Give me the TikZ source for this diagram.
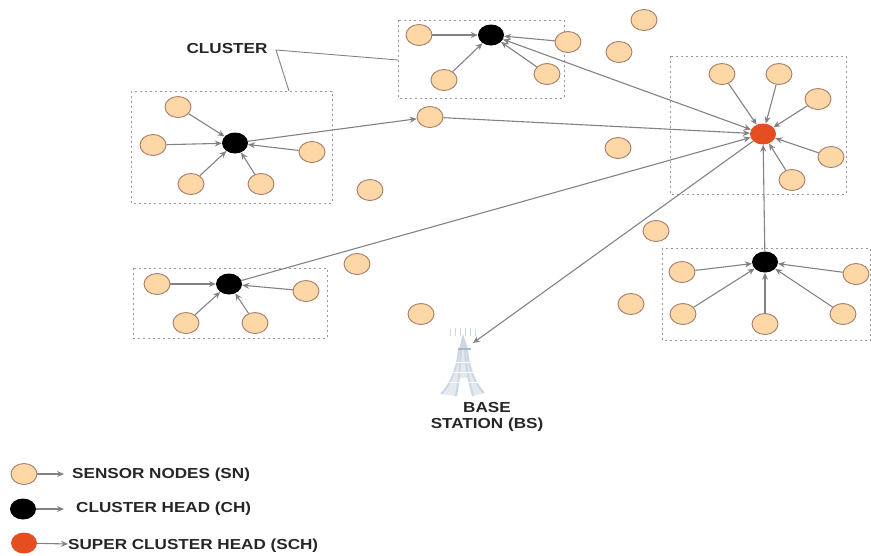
\documentclass[tikz,border=0pt]{standalone}
\usepackage{fontspec}
\setmainfont[FakeStretch=1.18]{Liberation Sans}
\usetikzlibrary{shapes.geometric,arrows.meta}
\definecolor{snfill}{RGB}{253,215,165}
\definecolor{snline}{RGB}{165,125,105}
\definecolor{schfill}{RGB}{228,78,32}
\definecolor{linkgray}{RGB}{130,130,130}
\definecolor{towerblue}{RGB}{205,215,225}
\tikzstyle{sn}=[ellipse,fill=snfill,draw=snline,line width=0.9pt,minimum width=26pt,minimum height=21pt,inner sep=0pt]
\tikzstyle{ch}=[ellipse,fill=black,minimum width=26pt,minimum height=21pt,inner sep=0pt]
\tikzstyle{sch}=[ellipse,fill=schfill,minimum width=26pt,minimum height=21pt,inner sep=0pt]
\tikzstyle{clusterbox}=[draw=black!40,line width=0.9pt,dash pattern=on 2pt off 3pt]
\tikzstyle{link}=[draw=linkgray,line width=1.1pt,-{Stealth[length=7pt,width=6pt]}]
\tikzstyle{annot}=[align=center,font=\bfseries\fontsize{14.5}{16}\selectfont,text=black!85,inner sep=0pt]
\begin{document}
\begin{tikzpicture}[x=1pt,y=-1pt]
	\useasboundingbox (0,0) rectangle (871,555);

	% cluster boxes
	\draw[clusterbox] (398,20) rectangle (564,98);
	\draw[clusterbox] (131,91) rectangle (332,203);
	\draw[clusterbox] (670,56) rectangle (846,194);
	\draw[clusterbox] (662,248) rectangle (870.5,340);
	\draw[clusterbox] (133,268) rectangle (327,338);

	% heads
	\node[ch] (chtop) at (491,35){};
	\node[ch] (chleft) at (235,143){};
	\node[ch] (chlow) at (229,284){};
	\node[ch] (chright) at (765,262){};
	\node[sch] (sch) at (763,134){};

	% top cluster
	\node[sn] (t1) at (419,35){};
	\node[sn] (t2) at (444,80){};
	\node[sn] (t3) at (568,42){};
	\node[sn] (t4) at (547,74){};
	\foreach \n in {t1,t2,t3,t4}
		\draw[link] (\n) -- (chtop);

	% left cluster
	\node[sn] (l1) at (178,107){};
	\node[sn] (l2) at (153,145){};
	\node[sn] (l3) at (191,184){};
	\node[sn] (l4) at (261,184){};
	\node[sn] (l5) at (312,152){};
	\foreach \n in {l1,l2,l3,l4,l5}
		\draw[link] (\n) -- (chleft);

	% lower left cluster
	\node[sn] (w1) at (157,284){};
	\node[sn] (w2) at (186,323){};
	\node[sn] (w3) at (255,323){};
	\node[sn] (w4) at (306,291){};
	\foreach \n in {w1,w2,w3,w4}
		\draw[link] (\n) -- (chlow);

	% super cluster
	\node[sn] (s1) at (722,74){};
	\node[sn] (s2) at (779,74){};
	\node[sn] (s3) at (818,99){};
	\node[sn] (s4) at (831,157){};
	\node[sn] (s5) at (792,180){};
	\foreach \n in {s1,s2,s3,s4,s5}
		\draw[link] (\n) -- (sch);

	% lower right cluster
	\node[sn] (r1) at (682,272){};
	\node[sn] (r2) at (683,314){};
	\node[sn] (r3) at (765,324){};
	\node[sn] (r4) at (843,314){};
	\node[sn] (r5) at (856,274){};
	\foreach \n in {r1,r2,r3,r4,r5}
		\draw[link] (\n) -- (chright);

	% free sensors
	\node[sn] (relay) at (430,117){};
	\node[sn] (f1) at (644,20){};
	\node[sn] (f2) at (619,52){};
	\node[sn] (f3) at (618,148){};
	\node[sn] (f4) at (370,190){};
	\node[sn] (f5) at (656,231){};
	\node[sn] (f6) at (357,264){};
	\node[sn] (f7) at (631,304){};
	\node[sn] (f8) at (421,314){};

	% tower
	\coordinate (bs) at (473,343);
	\begin{scope}[draw=towerblue,line width=2pt]
		\fill[towerblue] (463,334) -- (459,349) -- (468,349) -- cycle;
		\fill[towerblue!55] (459,350) .. controls (457,370) and (450,385) .. (441,394) -- (456,396)
			-- (460,378) -- (469,378) -- (473,396) -- (484,393) .. controls (476,385) and (469,370) .. (467,350) -- cycle;
		\draw (459,350) .. controls (457,370) and (450,385) .. (441,394);
		\draw (467,350) .. controls (469,370) and (476,385) .. (484,393);
		\draw (461,350) .. controls (460,370) and (458,385) .. (456,396);
		\draw (465,350) .. controls (466,370) and (470,385) .. (473,396);
		\draw[line width=0.8pt,draw=white] (456,362) -- (470,362) (453,372) -- (473,372) (449,382) -- (478,382);
		\draw[line width=2.5pt,draw=towerblue!85!black] (458,349) -- (471,349);
		\draw[line width=0.7pt,draw=towerblue] (450,329) -- (450,336) (455,328) -- (455,336) (460,328) -- (460,336) (465,328) -- (465,336) (470,328) -- (470,336) (475,329) -- (475,336);
	\end{scope}
	\node[annot] (bstext) at (487,417) {BASE\\STATION (BS)};

	% links between heads
	\draw[link] (chleft) -- (relay);
	\draw[link] (relay) -- (sch);
	\draw[link] (chlow) -- (sch);
	\draw[link,{Stealth[length=7pt,width=6pt]}-{Stealth[length=7pt,width=6pt]}] (chtop) -- (sch);
	\draw[link] (sch) -- (bs);
	\draw[link] (chright) -- (sch);

	% cluster label
	\node[annot] (cluster) at (227,49) {CLUSTER};
	\coordinate (knee) at (276,50);
	\coordinate (topedge) at (398,60);
	\coordinate (leftedge) at (289,91);
	\draw[linkgray,line width=0.9pt] (topedge) -- (knee) -- (leftedge);

	% legend
	\node[sn] (keysn) at (24,474){};
	\node[ch] (keych) at (23,509){};
	\node[sch] (keysch) at (24,543){};
	\node[annot,anchor=west] (keysntext) at (72,475) {SENSOR NODES (SN)};
	\node[annot,anchor=west] (keychtext) at (76,509) {CLUSTER HEAD (CH)};
	\node[annot,anchor=west] (keyschtext) at (68,545.5) {SUPER CLUSTER HEAD (SCH)};
	\coordinate (keysnend) at (64,474);
	\coordinate (keychend) at (64,509);
	\coordinate (keyschend) at (68,544);
	\draw[link] (keysn) -- (keysnend);
	\draw[link] (keych) -- (keychend);
	\draw[link] (keysch) -- (keyschend);
\end{tikzpicture}
\end{document}
